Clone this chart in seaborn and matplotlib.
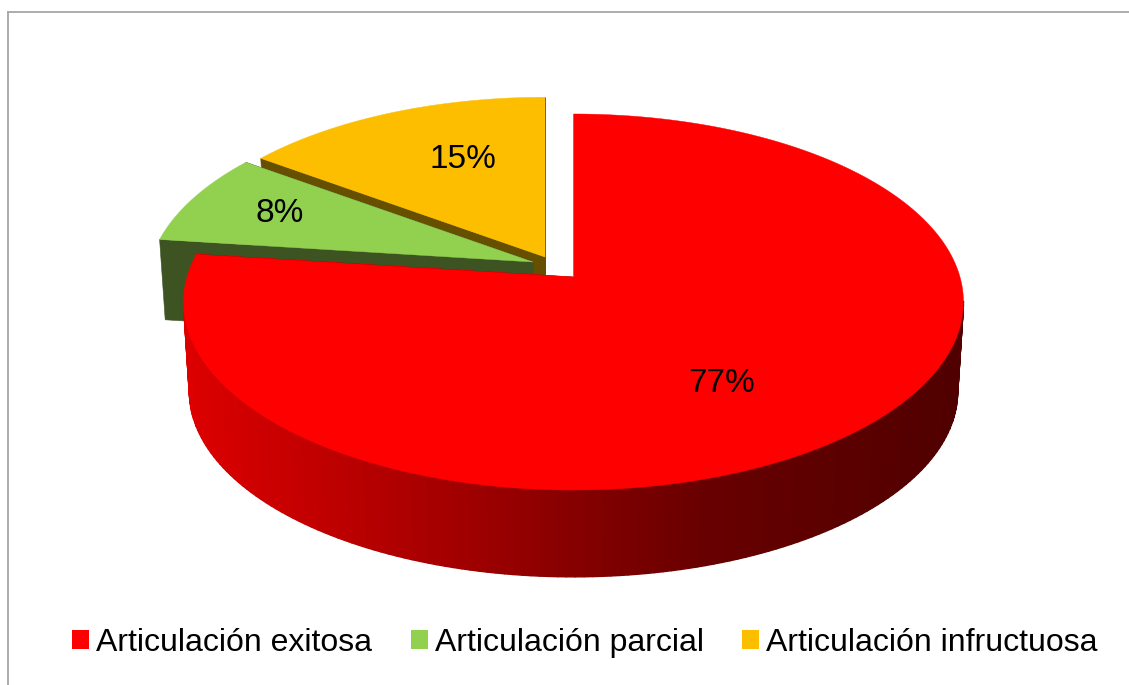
import numpy as np
import matplotlib
matplotlib.use("Agg")
import matplotlib.pyplot as plt
from matplotlib.patches import Patch
from matplotlib.collections import PolyCollection
import seaborn as sns

categories = ["Articulación exitosa", "Articulación parcial", "Articulación infructuosa"]
values = [77, 8, 15]
top_colors = ["#FF0000", "#92D050", "#FDBE00"]
side_colors = ["#8c0000", "#3D5422", "#665000"]

# pie projection settings (pixels)
W, H = 1129, 685
RX, RY, PERSP = 386.5, 184.7, 0.133
LOWER_SCALE = 0.985
APEX = [(573.5, 277), (533, 262), (545, 257)]
SLICE_SCALE = [1.0, 0.99, 0.98]
SLICE_DEPTH = [90, 80, 80]
LABEL_XY = [(722, 383), (280, 214), (463, 159)]
WALL_RAMP = ["#dc0000", "#a40000", "#680000", "#500000"]

sns.set_theme(style="white")
plt.rcParams["font.family"] = ["Liberation Sans", "DejaVu Sans"]

fig = plt.figure(figsize=(W / 100, H / 100), dpi=100)
ax = fig.add_axes([8 / W, 0, 1 - 8 / W, 1 - 12 / H])
ax.set_xlim(8, W)
ax.set_ylim(H, 12)
ax.set_xticks([])
ax.set_yticks([])
sns.despine(ax=ax, top=False, left=False, right=True, bottom=True)
for s in ("left", "top"):
    ax.spines[s].set_color("#a6a6a6")
    ax.spines[s].set_linewidth(1.3)


def project(i, theta, r=1.0, lower=False):
    """theta: clockwise from 12 o'clock, radians."""
    u, v = r * np.sin(theta), r * np.cos(theta)
    w = 1 + PERSP * v
    s = SLICE_SCALE[i] * (LOWER_SCALE if lower else 1.0)
    dy = SLICE_DEPTH[i] if lower else 0
    return APEX[i][0] + s * RX * u / w, APEX[i][1] - s * RY * v / w + dy


fractions = np.array(values) / np.sum(values)
edges = np.concatenate([[0], np.cumsum(fractions)]) * 2 * np.pi
pal = sns.blend_palette(WALL_RAMP, 256)

# painter's order: back slices first, front slice last
for i in [2, 1, 0]:
    th = np.linspace(edges[i], edges[i + 1], 240)
    x, y = project(i, th)
    xl, yl = project(i, th, lower=True)
    a0 = project(i, 0, r=0)
    a1 = project(i, 0, r=0, lower=True)
    # cut faces
    for k in (0, -1):
        ax.fill([a0[0], x[k], xl[k], a1[0]], [a0[1], y[k], yl[k], a1[1]],
                color=side_colors[i], lw=0.4, zorder=i * -10 + 1)
    # outer wall, shaded along x, only below the widest point of the rim
    polys, cols = [], []
    xmin, xmax = APEX[i][0] - RX, APEX[i][0] + RX
    for j in range(len(th) - 1):
        if np.cos(0.5 * (th[j] + th[j + 1])) < -PERSP:
            polys.append([(x[j], y[j]), (x[j + 1], y[j + 1]), (xl[j + 1], yl[j + 1]), (xl[j], yl[j])])
            f = (0.5 * (x[j] + x[j + 1]) - xmin) / (xmax - xmin)
            cols.append(pal[int(np.clip(f, 0, 1) * 255)])
    if polys:
        ax.add_collection(PolyCollection(polys, facecolors=cols, edgecolors=cols,
                                         linewidths=1.0, zorder=i * -10 + 2))
    ax.fill(np.r_[a0[0], x], np.r_[a0[1], y], color=top_colors[i], lw=0.3, zorder=i * -10 + 3)

for v, (lx, ly) in zip(values, LABEL_XY):
    ax.text(lx, ly, f"{v}%", ha="center", va="center", fontsize=24, color="black", zorder=5)

handles = [Patch(facecolor=c, edgecolor="none", label=l) for c, l in zip(top_colors, categories)]
ax.legend(handles=handles, ncol=3, loc="center", bbox_to_anchor=(585, 643),
          bbox_transform=ax.transData, frameon=False, fontsize=23,
          handlelength=0.54, handleheight=0.54, handletextpad=0.22, columnspacing=1.2,
          labelcolor="black")

fig.savefig("out.png", dpi=100)
